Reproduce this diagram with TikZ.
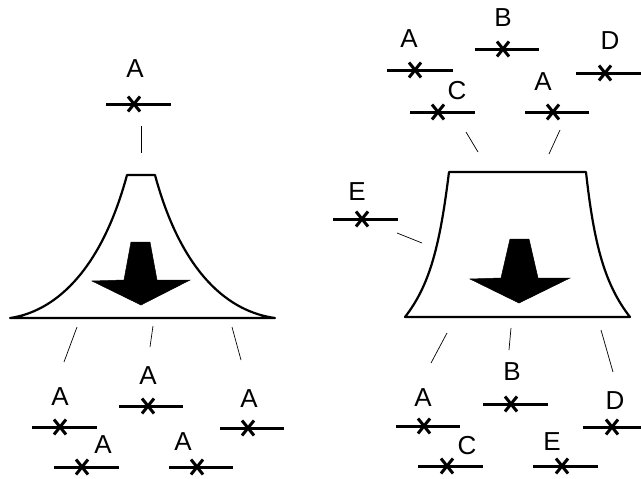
\documentclass[tikz,border=0pt]{standalone}
\usepackage{fontspec}
\setmainfont{Liberation Sans}
\begin{document}
\begin{tikzpicture}[x=1pt,y=-1pt,
  lbl/.style={inner sep=0pt,text height=18pt,text depth=0pt,font=\fontsize{26}{30}\selectfont},
  bar/.style={line width=3pt},
  crs/.style={line width=3pt},
  tick/.style={line width=0.7pt},
  outline/.style={line width=2.2pt,line join=round},
  arr/.style={fill=black,draw=black,line width=0.5pt,line join=miter}]
\useasboundingbox (0,0) rectangle (641,479);
\newcommand\mymark[5]{% name, left, right, y, xmark
  \draw[bar] (#2,#4) -- (#3,#4);
  \coordinate (#1) at (#5,#4);
  \draw[crs] ([shift={(-6,-7.5)}]#1) -- ([shift={(6,7.5)}]#1);
  \draw[crs] ([shift={(6,-7.5)}]#1) -- ([shift={(-6,7.5)}]#1);}
% ---------- left figure ----------
\draw[outline,fill=white] (127,175) -- (155,175)
  .. controls (182,275) and (230,312) .. (275,318)
  -- (10,318)
  .. controls (52,312) and (100,275) .. (127,175) -- cycle;
\fill[arr] (131,242) -- (150,242) -- (157,280) -- (190,280) -- (141,305) -- (92,281) -- (124,280) -- cycle;
\node[lbl] (lA) at (135,68) {A};
\mymark{lm}{106}{171}{104}{134}
\coordinate (lt1) at (141,126); \coordinate (lt2) at (141,153);
\draw[tick] (lt1) -- (lt2);
% bottom ticks
\coordinate (lb1a) at (77,327); \coordinate (lb1b) at (64,362);
\coordinate (lb2a) at (153,326); \coordinate (lb2b) at (150,347);
\coordinate (lb3a) at (232,327); \coordinate (lb3b) at (241,360);
\draw[tick] (lb1a) -- (lb1b);
\draw[tick] (lb2a) -- (lb2b);
\draw[tick] (lb3a) -- (lb3b);
% bottom markers
\node[lbl] (bA1) at (60,396) {A};  \mymark{bm1}{32}{97}{427}{60}
\node[lbl] (bA2) at (148,375) {A}; \mymark{bm2}{119}{183}{406}{148}
\node[lbl] (bA3) at (249,398) {A}; \mymark{bm3}{220}{284}{428}{248}
\node[lbl] (bA4) at (103,444) {A}; \mymark{bm4}{54}{119}{467}{82}
\node[lbl] (bA5) at (183,441) {A}; \mymark{bm5}{169}{233}{467}{197}
% ---------- right figure ----------
\draw[outline,fill=white] (449,172) -- (586,172)
  .. controls (594,245) and (605,285) .. (630,317)
  -- (405,317)
  .. controls (430,285) and (440,245) .. (449,172) -- cycle;
\fill[arr] (510,239) -- (529,239) -- (538,278) -- (570,278) -- (519,303) -- (470,279) -- (501,278) -- cycle;
% top markers
\node[lbl] (tA1) at (409,38) {A}; \mymark{tm1}{387}{453}{70}{415}
\node[lbl] (tB) at (503,18) {B};  \mymark{tm2}{475}{539}{49}{503}
\node[lbl] (tD) at (610,40) {D};  \mymark{tm3}{576}{641}{73}{605}
\node[lbl] (tC) at (457,90) {C};  \mymark{tm4}{410}{475}{112}{438}
\node[lbl] (tA2) at (543,81) {A}; \mymark{tm5}{525}{589}{112}{553}
\coordinate (rt1a) at (466,132); \coordinate (rt1b) at (478,152);
\coordinate (rt2a) at (560,130); \coordinate (rt2b) at (549,154);
\draw[tick] (rt1a) -- (rt1b);
\draw[tick] (rt2a) -- (rt2b);
% E side marker
\node[lbl] (sE) at (357,191) {E}; \mymark{sm}{333}{398}{219}{362}
\coordinate (se1) at (397,233); \coordinate (se2) at (422,243);
\draw[tick] (se1) -- (se2);
% bottom ticks
\coordinate (rb1a) at (447,333); \coordinate (rb1b) at (431,363);
\coordinate (rb2a) at (511,328); \coordinate (rb2b) at (509,350);
\coordinate (rb3a) at (601,330); \coordinate (rb3b) at (613,372);
\draw[tick] (rb1a) -- (rb1b);
\draw[tick] (rb2a) -- (rb2b);
\draw[tick] (rb3a) -- (rb3b);
% bottom markers
\node[lbl] (rA) at (423,397) {A}; \mymark{rm1}{396}{460}{426}{424}
\node[lbl] (rB) at (512,371) {B}; \mymark{rm2}{483}{548}{404}{511}
\node[lbl] (rD) at (615,400) {D}; \mymark{rm3}{583}{641}{427}{612}
\node[lbl] (rC) at (467,445) {C}; \mymark{rm4}{418}{483}{466}{447}
\node[lbl] (rE) at (552,441) {E}; \mymark{rm5}{533}{598}{466}{562}
\end{tikzpicture}
\end{document}
